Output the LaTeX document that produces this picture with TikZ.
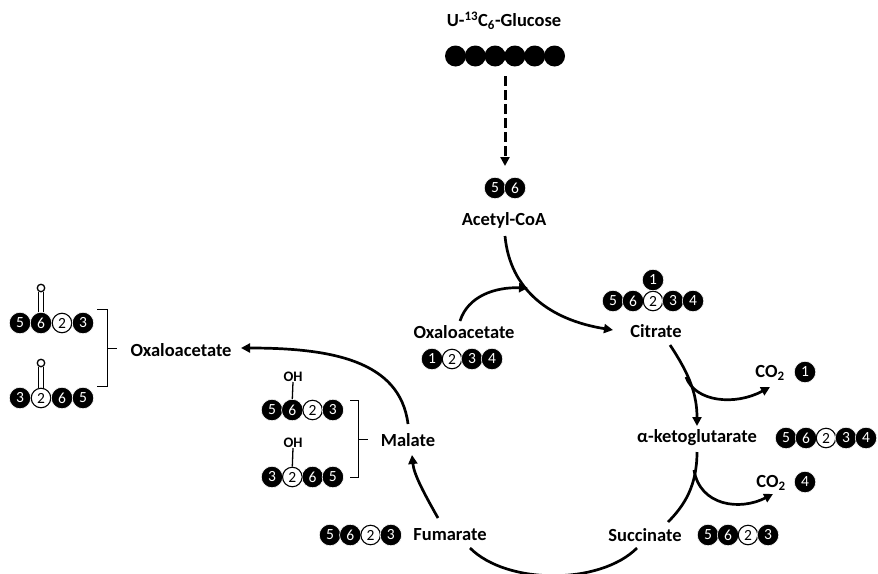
\documentclass[tikz,border=0pt]{standalone}
\usepackage{fontspec}
\setmainfont{Carlito}
\usetikzlibrary{arrows.meta}
\newcommand\lbf{\fontsize{18.5}{20}\selectfont\bfseries}
\newcommand\numf{\fontsize{15.5}{15.5}\selectfont}
\newcommand\molrow[5]{%
  \foreach \t/\n [count=\i] in {#5} {\node[\t] (#1\i) at ({#2+#4*(\i-1)},#3) {\n};}}
\tikzset{
  blk/.style={circle, fill=black, draw=white, line width=0.6pt, text=white, minimum size=21.5pt, inner sep=0pt, font=\numf},
  wht/.style={circle, fill=white, draw=black, line width=1.1pt, text=black, minimum size=19.5pt, inner sep=0pt, font=\numf},
  glc/.style={circle, fill=black, minimum size=21pt, inner sep=0pt},
  lbl/.style={font=\lbf, inner sep=0pt},
  ohl/.style={font=\fontsize{14.5}{14.5}\selectfont\bfseries, inner sep=0pt},
  arr/.style={line width=2.7pt, -{Triangle[length=9pt,width=9pt]}},
  plain/.style={line width=2.7pt},
  brk/.style={line width=1pt},
}
\begin{document}
\begin{tikzpicture}[x=1pt,y=-1pt]
\useasboundingbox (0,0) rectangle (878,573);
% glucose
\node[lbl] (glu) at (504,21) {U-\textsuperscript{13}C\textsubscript{6}-Glucose};
\foreach \i in {0,...,5} {\node[glc] (g\i) at ({455.5+19.8*\i},56) {};}
\coordinate (dash-s) at (505,76);
\coordinate (dash-e) at (505,166);
\draw[line width=3pt, dash pattern=on 10pt off 4pt, -{Triangle[length=9pt,width=9pt]}] (dash-s) -- (dash-e);
% acetyl-coa
\molrow{ac}{495}{188}{20}{blk/5,blk/6}
\node[lbl] (acoa) at (504,220) {Acetyl-CoA};
% oxaloacetate (centre)
\node[lbl] (oaa) at (464,332) {Oxaloacetate};
\molrow{oa}{432}{359}{20}{blk/1,wht/2,blk/3,blk/4}
% citrate
\node[lbl] (cit) at (656,331) {Citrate};
\molrow{ci}{613}{301}{20}{blk/5,blk/6,wht/2,blk/3,blk/4}
\node[blk] (ci1top) at (653,280) {1};
% CO2 1
\node[lbl] (co2a) at (770,373) {CO\textsubscript{2}};
\node[blk] (co2an) at (805,372) {1};
% alpha-kg
\node[lbl] (akg) at (697,438) {α-ketoglutarate};
\molrow{ak}{786}{438}{20}{blk/5,blk/6,wht/2,blk/3,blk/4}
% CO2 4
\node[lbl] (co2b) at (771,483) {CO\textsubscript{2}};
\node[blk] (co2bn) at (805,482) {4};
% succinate
\node[lbl] (suc) at (645,535) {Succinate};
\molrow{su}{708}{535}{20}{blk/5,blk/6,wht/2,blk/3}
% fumarate
\node[lbl] (fum) at (450,535) {Fumarate};
\molrow{fu}{330}{535}{20.3}{blk/5,blk/6,wht/2,blk/3}
% malate
\node[lbl] (mal) at (408,440) {Malate};
\molrow{mt}{272}{410}{20.3}{blk/5,blk/6,wht/2,blk/3}
\molrow{mb}{272}{477}{20.3}{blk/3,wht/2,blk/6,blk/5}
\node[ohl] (oh1) at (293,377) {OH};
\node[ohl] (oh2) at (293,443) {OH};
\draw[line width=1.3pt] (oh1.south) -- (mt2.north);
\draw[line width=1.3pt] (oh2.south) -- (mb2.north);
\draw[brk] (350,400) -- (358,400) -- (358,477) -- (350,477);
\draw[brk] (358,439) -- (368,439);
% oxaloacetate (left)
\node[lbl] (oal) at (181,350) {Oxaloacetate};
\molrow{lt}{20}{323}{21}{blk/5,blk/6,wht/2,blk/3}
\molrow{lb}{20}{398}{21}{blk/3,wht/2,blk/6,blk/5}
\node[circle, draw=black, line width=1.3pt, fill=white, minimum size=7.5pt, inner sep=0pt] (o1) at (41,288) {};
\node[circle, draw=black, line width=1.3pt, fill=white, minimum size=7.5pt, inner sep=0pt] (o2) at (41,363) {};
\draw[line width=1.2pt] ([xshift=-2.2pt]o1.south) -- ([xshift=-2.2pt]lt2.north);
\draw[line width=1.2pt] ([xshift=2.2pt]o1.south) -- ([xshift=2.2pt]lt2.north);
\draw[line width=1.2pt] ([xshift=-2.2pt]o2.south) -- ([xshift=-2.2pt]lb2.north);
\draw[line width=1.2pt] ([xshift=2.2pt]o2.south) -- ([xshift=2.2pt]lb2.north);
\draw[brk] (97,309) -- (107,309) -- (107,386) -- (97,386);
\draw[brk] (107,348) -- (117,348);
% cycle connectors
\coordinate (ac-s) at (505,236);
\coordinate (cit-w) at (613,330);
\draw[arr] (ac-s) .. controls (510,290) and (550,320) .. (cit-w);
\coordinate (oaa-n) at (460,321);
\coordinate (merge) at (528,288);
\draw[arr] (oaa-n) .. controls (468,296) and (495,287) .. (merge);
\coordinate (cit-s) at (670,345);
\coordinate (akg-n) at (697,426);
\draw[arr] (cit-s) .. controls (690,375) and (697,395) .. (akg-n);
\coordinate (br1) at (686,377);
\coordinate (co2a-w) at (770,387);
\draw[arr] (br1) .. controls (695,402) and (735,406) .. (co2a-w);
\coordinate (akg-s) at (697,452);
\coordinate (suc-n) at (668,522);
\draw[plain] (akg-s) .. controls (697,485) and (685,505) .. (suc-n);
\coordinate (br2) at (694,470);
\coordinate (co2b-w) at (773,494);
\draw[arr] (br2) .. controls (700,506) and (740,511) .. (co2b-w);
\coordinate (suc-s) at (637,548);
\coordinate (fum-s) at (470,548);
\draw[plain] (suc-s) .. controls (600,585) and (507,585) .. (fum-s);
\coordinate (fum-n) at (438,518);
\coordinate (mal-s) at (412,455);
\draw[arr] (fum-n) .. controls (425,495) and (414,475) .. (mal-s);
\coordinate (mal-n) at (408,424);
\coordinate (oal-e) at (241,348);
\draw[arr] (mal-n) .. controls (400,360) and (330,348) .. (oal-e);
\end{tikzpicture}
\end{document}
